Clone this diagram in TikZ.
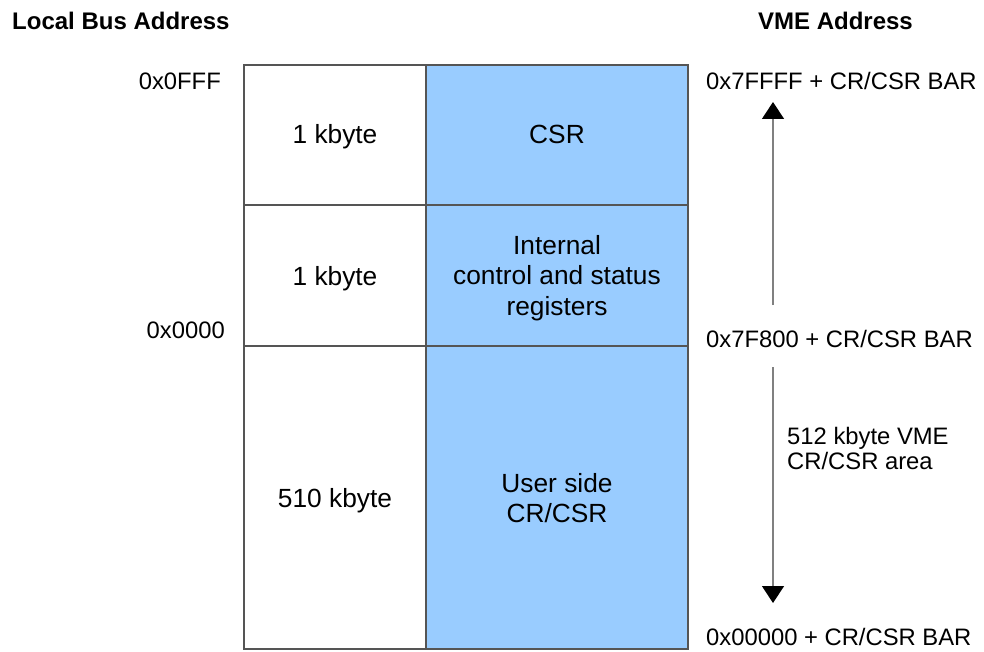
\documentclass[tikz,border=0pt]{standalone}
\usepackage{fontspec}
\setmainfont{Liberation Sans}
\usetikzlibrary{arrows.meta}
\definecolor{regfill}{HTML}{99CCFF}
\definecolor{edgegray}{HTML}{555555}
\definecolor{arrowgray}{HTML}{808080}
\tikzset{
  lbl/.style={inner sep=0pt, font=\fontsize{23.8}{25.5}\selectfont, align=center},
  celltext/.style={inner sep=0pt, font=\fontsize{26.3}{30.5}\selectfont, align=center},
  head/.style={inner sep=0pt, font=\fontsize{24}{28}\selectfont\bfseries},
  cell/.style={draw=edgegray, line width=1.4pt},
  span/.style={draw=arrowgray, line width=1.3pt,
    -{Triangle[width=22pt,length=17pt,color=black]}}
}
\begin{document}
\begin{tikzpicture}[x=1pt,y=-1pt]
\useasboundingbox (0,0) rectangle (984,652);
% memory map cells
\fill[regfill] (426,65) rectangle (688,649);
\draw[cell] (244,65) rectangle (688,649);
\draw[cell] (426,65) -- (426,649);
\draw[cell] (244,205) -- (688,205);
\draw[cell] (244,346) -- (688,346);
% column headings
\node[head, anchor=west] (lhead) at (12,21) {Local Bus Address};
\node[head, anchor=east] (vhead) at (913,21) {VME Address};
% local bus addresses
\node[lbl, anchor=east] (ltop) at (221,81) {0x0FFF};
\node[lbl, anchor=east] (lbot) at (225,330) {0x0000};
% sizes
\node[celltext, anchor=base] (s1) at (335,144) {1 kbyte};
\node[celltext, anchor=base] (s2) at (335,285) {1 kbyte};
\node[celltext, anchor=base] (s3) at (335,507) {510 kbyte};
% regions
\node[celltext, anchor=base] (r1) at (557,144) {CSR};
\node[celltext] (r2) at (557,278) {Internal\\control and status\\registers};
\node[celltext] (r3) at (557,498) {User side\\CR/CSR};
% VME addresses
\node[lbl, anchor=west] (vtop) at (706,81) {0x7FFFF + CR/CSR BAR};
\node[lbl, anchor=west] (vmid) at (706,339) {0x7F800 + CR/CSR BAR};
\node[lbl, anchor=west] (vbot) at (706,637) {0x00000 + CR/CSR BAR};
\node[lbl, anchor=west, align=left] (area) at (787,448.5) {512 kbyte VME\\CR/CSR area};
% span arrows
\coordinate (a1s) at (773,305);
\coordinate (a1e) at (773,102);
\coordinate (a2s) at (773,367);
\coordinate (a2e) at (773,603);
\draw[span] (a1s) -- (a1e);
\draw[span] (a2s) -- (a2e);
\end{tikzpicture}
\end{document}
